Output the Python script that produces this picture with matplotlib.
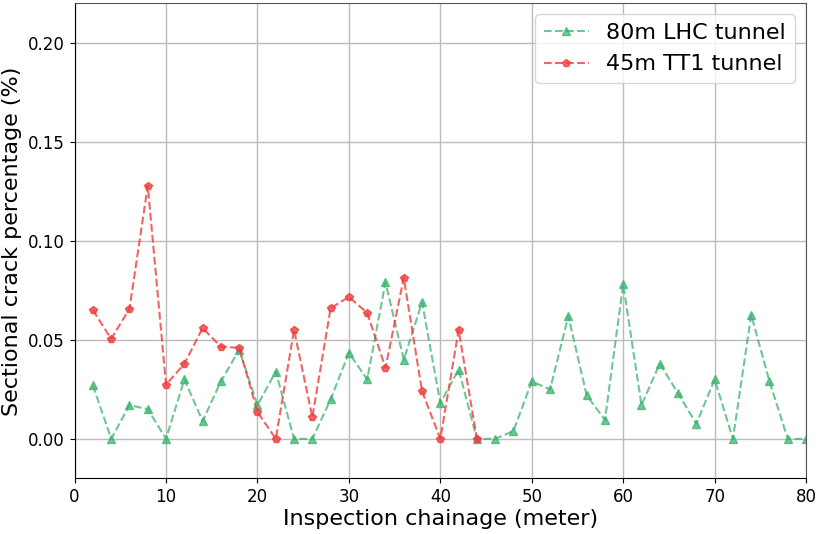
import matplotlib
matplotlib.use("Agg")
import matplotlib.pyplot as plt

# chainage positions (m)
lhc_x = list(range(2, 81, 2))
tt1_x = list(range(2, 45, 2))

# sectional crack percentage (%)
lhc_y = [0.027, 0.0, 0.017, 0.015, 0.0, 0.030, 0.009, 0.029, 0.045, 0.017,
         0.034, 0.0, 0.0, 0.020, 0.0434, 0.030, 0.079, 0.040, 0.069, 0.018,
         0.035, 0.0, 0.0, 0.004, 0.029, 0.025, 0.062, 0.022, 0.0096, 0.078,
         0.017, 0.038, 0.023, 0.0076, 0.030, 0.0, 0.0626, 0.029, 0.0, 0.0]
tt1_y = [0.065, 0.0505, 0.0657, 0.1278, 0.0273, 0.0379, 0.056, 0.0465, 0.046, 0.0136,
         0.0, 0.055, 0.011, 0.066, 0.0717, 0.0636, 0.0359, 0.0813, 0.024, 0.0,
         0.055, 0.0]

fig = plt.figure(figsize=(8.2, 5.34), dpi=100)
ax = fig.add_axes([0.091, 0.104, 0.892, 0.89])

ax.plot(lhc_x, lhc_y, '--^', color='mediumseagreen', alpha=0.75,
        markersize=6, linewidth=1.5, label='80m LHC tunnel')
ax.plot(tt1_x, tt1_y, '--p', color='#f03c3c', alpha=0.8,
        markersize=6, linewidth=1.5, label='45m TT1 tunnel')

ax.set_xlim(0, 80)
ax.set_ylim(-0.02, 0.22)
ax.set_yticks([0.0, 0.05, 0.10, 0.15, 0.20])
ax.set_yticklabels(['0.00', '0.05', '0.10', '0.15', '0.20'])
ax.tick_params(labelsize=12)
ax.grid(True, color='#bbbbbb', linewidth=1)
ax.set_axisbelow(True)

for side in ['top', 'right']:
    ax.spines[side].set_color('#555555')

ax.set_xlabel('Inspection chainage (meter)', fontsize=16, labelpad=2)
ax.set_ylabel('Sectional crack percentage (%)', fontsize=16)
ax.legend(loc='upper right', fontsize=16)

fig.savefig('out.png', dpi=100)
